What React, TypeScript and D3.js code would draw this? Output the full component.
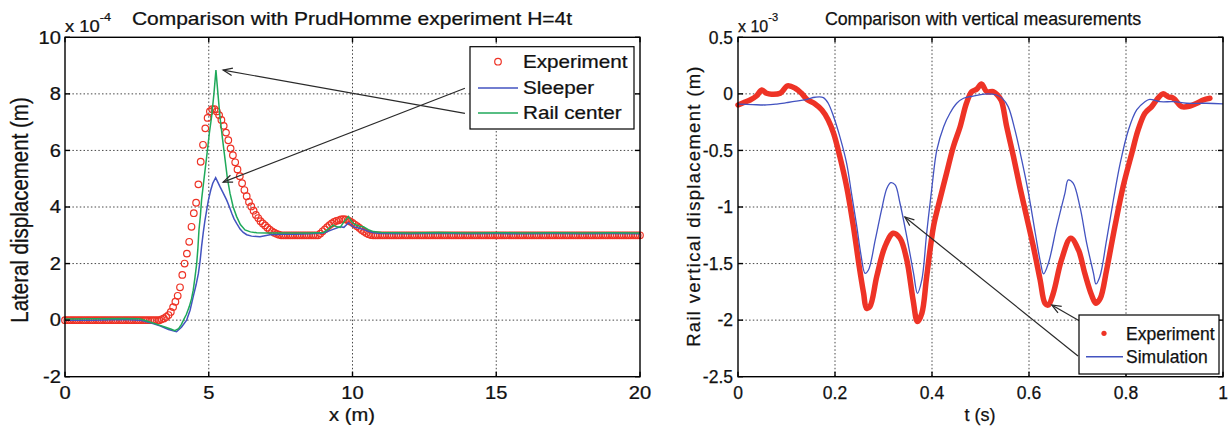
import React from "react";
import * as d3 from "d3";

// ---------- Left panel data (lateral displacement, x10^-4 m) ----------
const leftXTicks = [0, 5, 10, 15, 20];
const leftYTicks = [-2, 0, 2, 4, 6, 8, 10];
const expStep = 0.08;
const experimentY = [
  0, 0, 0, 0, 0, 0, 0, 0, 0, 0, 0, 0, 0, 0, 0, 0, 0, 0, 0, 0,
  0, 0, 0, 0, 0, 0, 0, 0, 0, 0, 0, 0, 0, 0, 0, 0, 0, 0, 0, 0,
  0, 0, 0.03, 0.06, 0.11, 0.18, 0.29, 0.46, 0.65, 0.86,
  1.16, 1.6, 2.0, 2.35, 2.77, 3.3, 3.78, 4.15, 4.8, 5.6,
  6.2, 6.78, 7.15, 7.38, 7.46, 7.46, 7.38, 7.25, 7.08, 6.87,
  6.63, 6.36, 6.07, 5.83, 5.58, 5.33, 5.09, 4.84, 4.6, 4.38,
  4.18, 4.02, 3.87, 3.72, 3.61, 3.5, 3.42, 3.35, 3.27, 3.2,
  3.14, 3.09, 3.05, 3.02,
  3, 3, 3, 3, 3, 3, 3, 3, 3, 3, 3, 3, 3, 3, 3, 3, 3,
  3.06, 3.14, 3.21, 3.29, 3.36, 3.42, 3.47, 3.51, 3.53, 3.56,
  3.57, 3.56, 3.53, 3.49, 3.44, 3.38, 3.32, 3.26, 3.19, 3.13,
  3.08, 3.04, 3.01,
  3, 3, 3, 3, 3, 3, 3, 3, 3, 3, 3, 3, 3, 3, 3, 3, 3, 3, 3, 3,
  3, 3, 3, 3, 3, 3, 3, 3, 3, 3, 3, 3, 3, 3, 3, 3, 3, 3, 3, 3,
  3, 3, 3, 3, 3, 3, 3, 3, 3, 3, 3, 3, 3, 3, 3, 3, 3, 3, 3, 3,
  3, 3, 3, 3, 3, 3, 3, 3, 3, 3, 3, 3, 3, 3, 3, 3, 3, 3, 3, 3,
  3, 3, 3, 3, 3, 3, 3, 3, 3, 3, 3, 3, 3, 3, 3, 3, 3, 3, 3, 3,
  3, 3, 3, 3, 3, 3, 3, 3, 3, 3, 3, 3, 3, 3, 3, 3, 3,
];
const sleeper: [number, number][] = [
  [0, 0], [1, 0], [2, 0.02], [2.6, 0.0], [3.0, -0.1], [3.3, -0.2], [3.6, -0.33], [3.88, -0.41],
  [4.05, -0.25], [4.23, 0.0], [4.35, 0.35], [4.46, 0.83], [4.56, 1.25], [4.64, 1.65], [4.7, 2.1],
  [4.75, 2.6], [4.81, 3.1], [4.87, 3.54], [4.93, 3.9], [4.99, 4.25], [5.07, 4.6], [5.14, 4.84],
  [5.24, 5.04], [5.39, 4.72], [5.5, 4.5], [5.62, 4.25], [5.72, 4.0], [5.8, 3.78], [5.88, 3.58],
  [5.97, 3.42], [6.09, 3.22], [6.2, 3.1], [6.32, 3.02], [6.49, 2.97], [6.78, 2.95], [7.13, 3.02],
  [7.5, 3.04], [8, 3.04], [8.5, 3.05], [9.0, 3.08], [9.3, 3.2], [9.57, 3.3], [9.7, 3.28],
  [9.86, 3.44], [10.03, 3.3], [10.2, 3.26], [10.38, 3.21], [10.55, 3.14], [10.73, 3.09],
  [11, 3.06], [12, 3.05], [13, 3.07], [14, 3.05], [15, 3.06], [16, 3.05], [17, 3.06], [18, 3.05],
  [19, 3.06], [20, 3.05],
];
const railCenter: [number, number][] = [
  [0, 0.04], [1, 0.05], [2, 0.06], [2.6, 0.05], [2.9, -0.05], [3.2, -0.15], [3.5, -0.25],
  [3.7, -0.32], [3.82, -0.37], [3.95, -0.3], [4.05, -0.15], [4.12, 0.0], [4.22, 0.2], [4.32, 0.47],
  [4.4, 0.75], [4.46, 1.06], [4.52, 1.5], [4.58, 2.0], [4.62, 2.5], [4.66, 3.19], [4.71, 3.7],
  [4.75, 4.25], [4.83, 4.95], [4.93, 5.8], [5.02, 6.6], [5.1, 7.2], [5.18, 8.0], [5.25, 8.84],
  [5.32, 8.0], [5.39, 7.19], [5.48, 6.4], [5.57, 5.66], [5.65, 5.0], [5.74, 4.48], [5.85, 4.0],
  [5.97, 3.66], [6.1, 3.38], [6.26, 3.19], [6.45, 3.12], [6.67, 3.09], [7.0, 3.08], [7.5, 3.08],
  [8.0, 3.08], [8.5, 3.08], [9.0, 3.1], [9.15, 3.22], [9.33, 3.36], [9.45, 3.3], [9.57, 3.28],
  [9.72, 3.5], [9.86, 3.66], [9.97, 3.48], [10.09, 3.38], [10.25, 3.32], [10.38, 3.3],
  [10.55, 3.2], [10.73, 3.13], [11, 3.1], [12, 3.08], [13, 3.1], [14, 3.08], [15, 3.09],
  [16, 3.08], [17, 3.09], [18, 3.08], [19, 3.09], [20, 3.08],
];
// arrows: [tailX, tailY, tipX, tipY] in data units
const leftArrows = [
  [13.91, 7.31, 5.5, 8.84],
  [13.91, 8.2, 5.5, 4.88],
];
const leftLegend = ["Experiment", "Sleeper", "Rail center"];

// ---------- Right panel data (vertical displacement, x10^-3 m) ----------
const rightXTicks = [0, 0.2, 0.4, 0.6, 0.8, 1];
const rightYTicks = [-2.5, -2, -1.5, -1, -0.5, 0, 0.5];
const measured: [number, number][] = [
  [0, -0.098], [0.011, -0.078], [0.025, -0.054], [0.038, -0.019], [0.049, 0.034], [0.059, 0.005],
  [0.069, -0.004], [0.087, 0.005], [0.102, 0.07], [0.118, 0.05], [0.131, 0.005], [0.142, -0.048],
  [0.159, -0.089], [0.173, -0.142], [0.186, -0.23], [0.197, -0.348], [0.21, -0.555], [0.224, -0.82],
  [0.238, -1.174], [0.25, -1.527], [0.259, -1.763], [0.265, -1.895], [0.272, -1.88], [0.286, -1.616],
  [0.303, -1.35], [0.32, -1.232], [0.334, -1.276], [0.348, -1.468], [0.361, -1.822], [0.37, -2.013],
  [0.379, -1.94], [0.389, -1.616], [0.403, -1.174], [0.416, -0.938], [0.43, -0.702], [0.444, -0.467],
  [0.458, -0.29], [0.471, -0.083], [0.482, 0.019], [0.492, 0.041], [0.502, 0.087], [0.513, 0.019],
  [0.526, 0.02], [0.535, -0.01], [0.543, -0.06], [0.554, -0.29], [0.568, -0.555], [0.581, -0.82],
  [0.595, -1.085], [0.609, -1.35], [0.623, -1.645], [0.633, -1.851], [0.64, -1.866], [0.65, -1.763],
  [0.667, -1.468], [0.686, -1.276], [0.702, -1.38], [0.715, -1.586], [0.729, -1.778], [0.738, -1.851],
  [0.747, -1.807], [0.76, -1.557], [0.777, -1.174], [0.794, -0.82], [0.812, -0.525], [0.825, -0.319],
  [0.839, -0.171], [0.853, -0.113], [0.863, -0.054], [0.876, 0.0], [0.887, -0.025], [0.898, -0.039],
  [0.915, -0.113], [0.932, -0.107], [0.946, -0.083], [0.959, -0.054], [0.973, -0.039],
];
const simulation: [number, number][] = [
  [0, -0.09], [0.03, -0.095], [0.059, -0.098], [0.08, -0.09], [0.1, -0.078], [0.12, -0.065],
  [0.142, -0.048], [0.159, -0.03], [0.176, -0.033], [0.186, -0.083], [0.197, -0.2], [0.21, -0.378],
  [0.224, -0.614], [0.234, -0.879], [0.245, -1.174], [0.253, -1.409], [0.262, -1.586], [0.269, -1.557],
  [0.283, -1.291], [0.296, -1.026], [0.307, -0.835], [0.315, -0.785], [0.324, -0.805], [0.334, -0.967],
  [0.348, -1.262], [0.362, -1.586], [0.37, -1.763], [0.379, -1.645], [0.389, -1.232], [0.4, -0.82],
  [0.41, -0.496], [0.424, -0.29], [0.437, -0.171], [0.451, -0.083], [0.465, -0.039], [0.485, -0.019],
  [0.513, 0.0], [0.533, -0.01], [0.545, -0.04], [0.557, -0.113], [0.571, -0.319], [0.585, -0.584],
  [0.599, -0.879], [0.613, -1.232], [0.624, -1.497], [0.63, -1.592], [0.64, -1.497], [0.657, -1.174],
  [0.674, -0.879], [0.681, -0.761], [0.691, -0.79], [0.705, -0.997], [0.719, -1.321], [0.733, -1.586],
  [0.738, -1.68], [0.746, -1.616], [0.76, -1.291], [0.774, -0.938], [0.788, -0.614], [0.805, -0.319],
  [0.822, -0.142], [0.839, -0.069], [0.849, -0.048], [0.87, -0.069], [0.898, -0.069], [0.925, -0.083],
  [0.966, -0.083], [1.0, -0.088],
];
const rightArrows = [
  [0.701, -2.317, 0.344, -1.088],
  [0.726, -2.06, 0.647, -1.866],
];
const rightLegend = ["Experiment", "Simulation"];

// ---------- styling ----------
const FONT = "'Liberation Sans', Arial, Helvetica, sans-serif";
const RED = "#ee3326";
const BLUE = "#4353c0";
const GREEN = "#1fa95a";
const SL = 1.15; // horizontal stretch of left panel text

const T = ({ x, y, sx = 1, size, anchor = "start", rotate = 0, ls = 0, dy = "0", children }: any) => (
  <g transform={`translate(${x},${y}) scale(${sx},1)${rotate ? ` rotate(${rotate})` : ""}`}>
    <text fontSize={size} textAnchor={anchor} letterSpacing={ls} dy={dy} fill="#111" stroke="#111" strokeWidth={0.25}>
      {children}
    </text>
  </g>
);

function Arrow({ x1, y1, x2, y2 }: any) {
  const a = Math.atan2(y1 - y2, x1 - x2);
  const L = 10, sp = 0.38;
  const p1 = [x2 + L * Math.cos(a + sp), y2 + L * Math.sin(a + sp)];
  const p2 = [x2 + L * Math.cos(a - sp), y2 + L * Math.sin(a - sp)];
  return (
    <g stroke="#2a2a2a" strokeWidth={1.2} fill="none">
      <line x1={x1} y1={y1} x2={x2} y2={y2} />
      <path d={`M${p1[0]},${p1[1]} L${x2},${y2} L${p2[0]},${p2[1]}`} />
    </g>
  );
}

function Grid({ x, y, xt, yt }: any) {
  const [x0, x1] = x.range();
  const [y0, y1] = y.range();
  return (
    <g stroke="#333" strokeWidth={0.9} strokeDasharray="1.5,2.2">
      {xt.slice(1, -1).map((t: number) => (
        <line key={"gx" + t} x1={x(t)} x2={x(t)} y1={y0} y2={y1} />
      ))}
      {yt.slice(1, -1).map((t: number) => (
        <line key={"gy" + t} y1={y(t)} y2={y(t)} x1={x0} x2={x1} />
      ))}
    </g>
  );
}

function Box({ x, y, xt, yt }: any) {
  const [x0, x1] = x.range();
  const [y0, y1] = y.range();
  const tl = 5;
  return (
    <g stroke="#000" strokeWidth={1.4} fill="none">
      <rect x={x0} y={y1} width={x1 - x0} height={y0 - y1} />
      {xt.map((t: number) => (
        <g key={"tx" + t}>
          <line x1={x(t)} x2={x(t)} y1={y0} y2={y0 - tl} />
          <line x1={x(t)} x2={x(t)} y1={y1} y2={y1 + tl} />
        </g>
      ))}
      {yt.map((t: number) => (
        <g key={"ty" + t}>
          <line y1={y(t)} y2={y(t)} x1={x0} x2={x0 + tl} />
          <line y1={y(t)} y2={y(t)} x1={x1} x2={x1 - tl} />
        </g>
      ))}
    </g>
  );
}

export default function App() {
  const xL = d3.scaleLinear().domain([0, 20]).range([65, 640]);
  const yL = d3.scaleLinear().domain([-2, 10]).range([376.7, 37.3]);
  const xR = d3.scaleLinear().domain([0, 1]).range([738, 1223]);
  const yR = d3.scaleLinear().domain([-2.5, 0.5]).range([376.7, 37.3]);

  const lineL = d3.line<[number, number]>().x((d) => xL(d[0])).y((d) => yL(d[1]));
  const lineR = d3.line<[number, number]>().x((d) => xR(d[0])).y((d) => yR(d[1])).curve(d3.curveCatmullRom.alpha(0.5));

  const expPts = experimentY.map((v, i) => [i * expStep, v] as [number, number]);

  return (
    <svg
      width={1228}
      height={429}
      style={{ position: "absolute", left: 0, top: 0, background: "#fff" }}
      fontFamily={FONT}
    >
      <rect width={1228} height={429} fill="#fff" />

      {/* ---------------- LEFT PANEL ---------------- */}
      <Grid x={xL} y={yL} xt={leftXTicks} yt={leftYTicks} />
      <g>
        {expPts.map((d, i) => (
          <circle key={i} cx={xL(d[0])} cy={yL(d[1])} r={3.3} fill="none" stroke={RED} strokeWidth={1.2} />
        ))}
      </g>
      <path d={lineL(sleeper) || ""} fill="none" stroke={BLUE} strokeWidth={1.5} />
      <path d={lineL(railCenter) || ""} fill="none" stroke={GREEN} strokeWidth={1.5} />
      <Box x={xL} y={yL} xt={leftXTicks} yt={leftYTicks} />
      {leftArrows.map((a, i) => (
        <Arrow key={i} x1={xL(a[0])} y1={yL(a[1])} x2={xL(a[2])} y2={yL(a[3])} />
      ))}
      {leftXTicks.map((t) => (
        <T key={"lx" + t} x={xL(t)} y={399} sx={SL} size={17.5} anchor="middle">{t}</T>
      ))}
      {leftYTicks.map((t) => (
        <T key={"ly" + t} x={61} y={yL(t)} sx={SL} size={17.5} anchor="end" dy="0.36em">{t}</T>
      ))}
      <T x={352} y={25} sx={1.2} size={17.5} anchor="middle">Comparison with PrudHomme experiment H=4t</T>
      <T x={352} y={421} sx={SL} size={17.5} anchor="middle">x (m)</T>
      <T x={28} y={210} sx={SL} size={20.5} anchor="middle" rotate={-90}>Lateral displacement (m)</T>
      <g transform={`translate(65,32) scale(${SL},1)`}>
        <text fontSize={16} fill="#111" stroke="#111" strokeWidth={0.25}>
          x 10<tspan fontSize={11} dy={-11}>-4</tspan>
        </text>
      </g>
      {/* legend */}
      <rect x={470} y={46.7} width={164} height={82.3} fill="#fff" stroke="#000" strokeWidth={1.2} />
      <circle cx={498} cy={61.7} r={3.3} fill="none" stroke={RED} strokeWidth={1.2} />
      <line x1={478} x2={518} y1={88} y2={88} stroke={BLUE} strokeWidth={1.5} />
      <line x1={478} x2={518} y1={113} y2={113} stroke={GREEN} strokeWidth={1.5} />
      {leftLegend.map((s, i) => (
        <T key={s} x={523} y={[61.7, 88, 113][i]} sx={1.18} size={17.5} dy="0.36em">{s}</T>
      ))}

      {/* ---------------- RIGHT PANEL ---------------- */}
      <Grid x={xR} y={yR} xt={rightXTicks} yt={rightYTicks} />
      <path d={lineR(measured) || ""} fill="none" stroke={RED} strokeWidth={5.5} strokeLinejoin="round" strokeLinecap="round" />
      <path d={lineR(simulation) || ""} fill="none" stroke={BLUE} strokeWidth={1.3} />
      <Box x={xR} y={yR} xt={rightXTicks} yt={rightYTicks} />
      {rightArrows.map((a, i) => (
        <Arrow key={i} x1={xR(a[0])} y1={yR(a[1])} x2={xR(a[2])} y2={yR(a[3])} />
      ))}
      {rightXTicks.map((t) => (
        <T key={"rx" + t} x={xR(t)} y={399} size={17.5} anchor="middle">{t}</T>
      ))}
      {rightYTicks.map((t) => (
        <T key={"ry" + t} x={733} y={yR(t)} size={17.5} anchor="end" dy="0.36em">{t}</T>
      ))}
      <T x={983} y={25} size={17.8} anchor="middle">Comparison with vertical measurements</T>
      <T x={980} y={421} size={18} anchor="middle">t (s)</T>
      <T x={700} y={206} size={18.5} anchor="middle" rotate={-90} ls={1.3}>Rail vertical displacement (m)</T>
      <g transform="translate(738,32)">
        <text fontSize={16} fill="#111" stroke="#111" strokeWidth={0.25}>
          x 10<tspan fontSize={11} dy={-11}>-3</tspan>
        </text>
      </g>
      <rect x={1079} y={315} width={140} height={59} fill="#fff" stroke="#000" strokeWidth={1.2} />
      <circle cx={1104} cy={333.3} r={2.6} fill={RED} />
      <line x1={1086} x2={1123} y1={356.7} y2={356.7} stroke={BLUE} strokeWidth={1.5} />
      {rightLegend.map((s, i) => (
        <T key={s} x={1126} y={[333.3, 356.7][i]} size={17.5} dy="0.36em">{s}</T>
      ))}
    </svg>
  );
}
